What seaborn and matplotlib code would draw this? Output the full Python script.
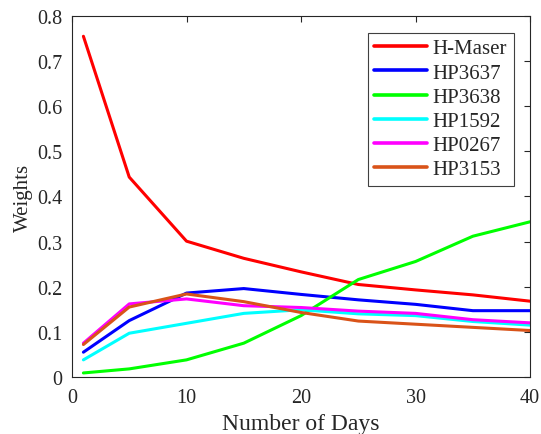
import numpy as np
import pandas as pd
import matplotlib
matplotlib.use("Agg")
import matplotlib.pyplot as plt
import seaborn as sns
from matplotlib.ticker import FuncFormatter

days = [1, 5, 10, 15, 20, 25, 30, 35, 40]
clocks = ["H-Maser", "HP3637", "HP3638", "HP1592", "HP0267", "HP3153"]

h_maser = [0.755, 0.443, 0.301, 0.263, 0.233, 0.205, 0.193, 0.182, 0.168]
hp3637 = [0.055, 0.125, 0.186, 0.196, 0.183, 0.171, 0.161, 0.147, 0.147]
hp3638 = [0.009, 0.018, 0.038, 0.075, 0.136, 0.216, 0.256, 0.312, 0.344]
hp1592 = [0.038, 0.097, 0.119, 0.141, 0.149, 0.140, 0.136, 0.123, 0.115]
hp0267 = [0.075, 0.162, 0.173, 0.158, 0.154, 0.146, 0.141, 0.127, 0.120]
hp3153 = [0.072, 0.155, 0.184, 0.167, 0.143, 0.124, 0.117, 0.110, 0.103]

colors = ["#FF0000", "#0000FF", "#00FF00", "#00FFFF", "#FF00FF", "#D95319"]

series = [h_maser, hp3637, hp3638, hp1592, hp0267, hp3153]
df = pd.concat(
    [pd.DataFrame({"day": days, "weight": w, "clock": name})
     for name, w in zip(clocks, series)],
    ignore_index=True,
)

sns.set_style("white")
plt.rcParams["font.family"] = ["Liberation Serif", "DejaVu Serif"]

fig = plt.figure(figsize=(5.41, 4.35), dpi=100)
ax = fig.add_axes([0.133, 0.131, 0.847, 0.830])

sns.lineplot(
    data=df, x="day", y="weight", hue="clock",
    hue_order=clocks, palette=colors, linewidth=2.2, ax=ax,
)

ax.set_xlim(0, 40)
ax.set_ylim(0, 0.8)
ax.set_xticks([0, 10, 20, 30, 40])
ax.set_yticks(np.arange(0, 0.81, 0.1))
ax.yaxis.set_major_formatter(FuncFormatter(lambda v, p: f"{v:g}"))
ax.tick_params(direction="in", top=True, right=True, length=4,
               width=0.8, labelsize=14.5, colors="#262626")
ax.tick_params(axis="x", pad=8)
ax.tick_params(axis="y", pad=7)
ax.set_xlabel("Number of Days", fontsize=17, color="#262626", labelpad=4)
ax.set_ylabel("Weights", fontsize=15, color="#262626", labelpad=3)
for s in ax.spines.values():
    s.set_color("#262626")
    s.set_linewidth(0.8)

leg = ax.legend(
    loc="upper right", fontsize=15, handlelength=2.5, labelspacing=0.22,
    handletextpad=0.3, borderpad=0.3, borderaxespad=0.8,
    fancybox=False, framealpha=1, edgecolor="#404040",
)
leg.get_frame().set_linewidth(0.8)
for line in leg.get_lines():
    line.set_linewidth(2.6)

fig.savefig("out.png", dpi=100)
